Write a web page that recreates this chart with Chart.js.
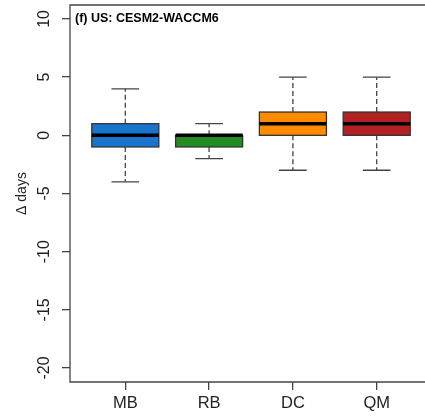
<!DOCTYPE html>
<html>
<head>
<meta charset="utf-8">
<script src="https://cdn.jsdelivr.net/npm/chart.js@4"></script>
<style>
  html, body { margin: 0; padding: 0; background: #fff; overflow: hidden; }
  #wrap { width: 440px; height: 419px; }
</style>
</head>
<body>
<div id="wrap"><canvas id="chart" width="440" height="419"></canvas></div>
<script>
// --- data ---
const categories = ["MB", "RB", "DC", "QM"];
const whiskerLow = [-4, -2, -3, -3];
const q1 = [-1, -1, 0, 0];
const medians = [0, 0, 1, 1];
const q3 = [1, 0, 2, 2];
const whiskerHigh = [4, 1, 5, 5];
const boxColors = ["#1874CD", "#228B22", "#FF8C00", "#B22222"];
const yTicks = [-20, -15, -10, -5, 0, 5, 10];
const panelTitle = "(f) US: CESM2-WACCM6";
const yTitle = "Δ days";

const BOX_W = 0.4;   // half box width, x units
const CAP_W = 0.165; // half staple width
const FONT = "'Liberation Sans', Arial, sans-serif";

// boxes, frame and labels, all placed through the chart's scales
const boxPlugin = {
  id: "boxes",
  afterDatasetsDraw(chart) {
    const { ctx, scales: { x, y }, chartArea: a } = chart;
    ctx.save();
    categories.forEach((c, i) => {
      const xc = x.getPixelForValue(i + 1);
      const xl = x.getPixelForValue(i + 1 - BOX_W);
      const xr = x.getPixelForValue(i + 1 + BOX_W);
      const cl = x.getPixelForValue(i + 1 - CAP_W);
      const cr = x.getPixelForValue(i + 1 + CAP_W);
      const yLo = y.getPixelForValue(whiskerLow[i]);
      const yQ1 = y.getPixelForValue(q1[i]);
      const yMd = y.getPixelForValue(medians[i]);
      const yQ3 = y.getPixelForValue(q3[i]);
      const yHi = y.getPixelForValue(whiskerHigh[i]);

      // whiskers (dashed)
      ctx.strokeStyle = "#444";
      ctx.lineWidth = 1.3;
      ctx.setLineDash([5, 3]);
      ctx.beginPath();
      ctx.moveTo(xc, yQ3); ctx.lineTo(xc, yHi);
      ctx.moveTo(xc, yQ1); ctx.lineTo(xc, yLo);
      ctx.stroke();
      // staples
      ctx.setLineDash([]);
      ctx.beginPath();
      ctx.moveTo(cl, yHi); ctx.lineTo(cr, yHi);
      ctx.moveTo(cl, yLo); ctx.lineTo(cr, yLo);
      ctx.stroke();
      // box
      ctx.fillStyle = boxColors[i];
      ctx.fillRect(xl, yQ3, xr - xl, yQ1 - yQ3);
      ctx.strokeStyle = "#333";
      ctx.lineWidth = 1.3;
      ctx.strokeRect(xl, yQ3, xr - xl, yQ1 - yQ3);
      // median
      ctx.strokeStyle = "#000";
      ctx.lineWidth = 3.5;
      ctx.beginPath();
      ctx.moveTo(xl, yMd); ctx.lineTo(xr, yMd);
      ctx.stroke();

      // category label
      ctx.fillStyle = "#222";
      ctx.font = "16.5px " + FONT;
      ctx.textAlign = "center";
      ctx.textBaseline = "alphabetic";
      ctx.fillText(c, xc, a.bottom + 26);
    });

    // y tick labels, rotated like R's default
    ctx.font = "16px " + FONT;
    ctx.fillStyle = "#222";
    ctx.textAlign = "center";
    ctx.textBaseline = "middle";
    yTicks.forEach(v => {
      ctx.save();
      ctx.translate(a.left - 25, y.getPixelForValue(v));
      ctx.rotate(-Math.PI / 2);
      ctx.fillText(String(v), 0, 0);
      ctx.restore();
    });

    // y title
    ctx.save();
    ctx.font = "14px " + FONT;
    ctx.translate(a.left - 48, (a.top + a.bottom) / 2);
    ctx.rotate(-Math.PI / 2);
    ctx.fillText(yTitle, 0, 0);
    ctx.restore();

    // frame: left, top, bottom (right side falls outside the window)
    ctx.strokeStyle = "#444";
    ctx.lineWidth = 1.3;
    ctx.beginPath();
    ctx.moveTo(a.right, a.top);
    ctx.lineTo(a.left, a.top);
    ctx.lineTo(a.left, a.bottom);
    ctx.lineTo(a.right, a.bottom);
    ctx.stroke();

    // panel label
    ctx.fillStyle = "#000";
    ctx.font = "bold 12.5px " + FONT;
    ctx.textAlign = "left";
    ctx.textBaseline = "alphabetic";
    ctx.fillText(panelTitle, a.left + 5, a.top + 17);
    ctx.restore();
  }
};

new Chart(document.getElementById("chart").getContext("2d"), {
  type: "scatter",
  data: { datasets: [{ data: [], pointRadius: 0 }] },
  options: {
    responsive: false,
    animation: false,
    events: [],
    layout: { padding: { top: 5, right: 8, left: 0, bottom: 0 } },
    plugins: { legend: { display: false }, tooltip: { enabled: false } },
    scales: {
      x: {
        type: "linear",
        min: 0.34,
        max: 4.66,
        afterBuildTicks: s => { s.ticks = categories.map((c, i) => ({ value: i + 1 })); },
        afterFit: s => { s.height = 37; },
        grid: { drawOnChartArea: false, drawTicks: true, tickLength: 8, color: "#444", lineWidth: 1.3 },
        border: { display: false },
        ticks: { display: false }
      },
      y: {
        min: -21.2,
        max: 11.2,
        afterBuildTicks: s => { s.ticks = yTicks.map(v => ({ value: v })); },
        afterFit: s => { s.width = 70; },
        grid: { drawOnChartArea: false, drawTicks: true, tickLength: 8, color: "#444", lineWidth: 1.3 },
        border: { display: false },
        ticks: { display: false }
      }
    }
  },
  plugins: [boxPlugin]
});
</script>
</body>
</html>
